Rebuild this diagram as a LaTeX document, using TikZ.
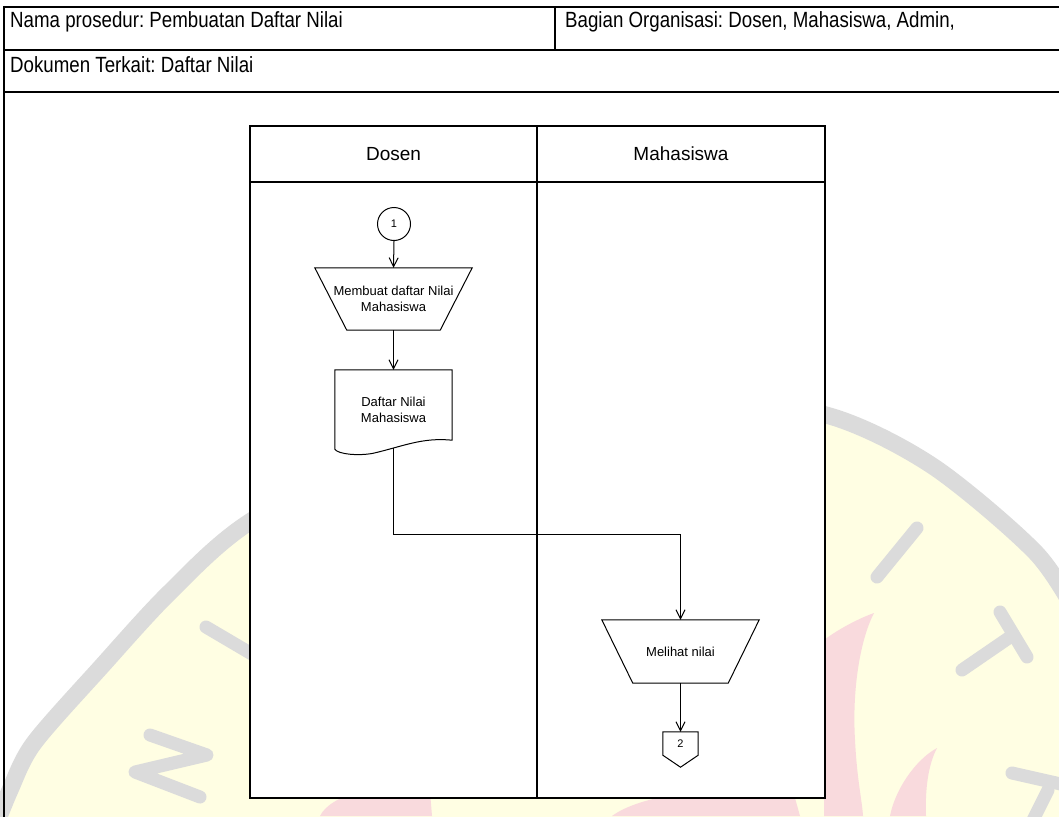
\documentclass[tikz,border=0pt]{standalone}
\usepackage{fontspec}
\setmainfont{Liberation Sans}
\newfontfamily\formfont[FakeStretch=0.85]{Liberation Sans}
\usetikzlibrary{arrows.meta,calc}
\frenchspacing

\definecolor{wmcream}{HTML}{FFFEE3}
\definecolor{wmgrey}{HTML}{DBDBDB}
\definecolor{wmpink}{HTML}{F9DADD}

\tikzset{
  tablerule/.style={line width=2pt, black},
  lanerule/.style={line width=1.3pt, black},
  shapeline/.style={line width=1pt, black},
  flow/.style={line width=1pt, black, -{Straight Barb[length=9pt,width=9pt]}},
  tabletext/.style={anchor=base west, inner sep=0pt, font=\formfont\fontsize{22}{26}\selectfont},
  lanetitle/.style={inner sep=0pt, font=\fontsize{19}{22}\selectfont},
  stepbox/.style={inner sep=0pt, align=center, font=\fontsize{13}{16}\selectfont},
  wmletter/.style={wmgrey, line width=13pt, line cap=round, line join=round},
}

\begin{document}
\begin{tikzpicture}[x=1pt,y=-1pt]
\useasboundingbox (0,0) rectangle (1059,816);

% faint emblem in the background
\begin{scope}
  \clip (0,0) rectangle (1059,816);
  \fill[wmcream] plot[smooth] coordinates {(-10,840) (10,790) (34,743) (101,667) (169,593) (248,523) (400,440) (560,400) (700,395) (833,417) (934,467) (1036,553) (1080,620)}
    -- (1100,900) -- (-20,900) -- cycle;
  % flames
  \fill[wmpink] (824,640) .. controls (840,628) and (860,618) .. (874,613)
    .. controls (860,640) and (852,690) .. (855,740) .. controls (857,780) and (862,800) .. (863,816) -- (824,816) -- cycle;
  \fill[wmpink] (937,748) .. controls (915,760) and (895,790) .. (890,816) -- (926,816)
    .. controls (925,790) and (928,765) .. (937,748) -- cycle;
  \fill[wmpink] (320,816) .. controls (330,795) and (380,780) .. (430,792) -- (432,816) -- cycle;
  \fill[wmpink] (612,816) .. controls (640,795) and (720,782) .. (795,798) -- (800,816) -- cycle;
  % ring
  \draw[wmgrey, line width=17pt] plot[smooth] coordinates {(-10,840) (10,790) (34,743) (101,667) (169,593) (248,523) (400,440) (560,400) (700,395) (833,417) (934,467) (1036,553) (1080,620)};
  % letters
  \draw[wmletter] (150,735) -- (207,755) -- (135,772) -- (200,797);
  \draw[wmletter] (206,627) -- (262,660);
  \draw[wmletter] (917,528) -- (877,577);
  \draw[wmletter] (1000,612) -- (1027,657);
  \draw[wmletter] (962,670) -- (1013,635);
  \draw[wmletter] (1012,773) -- (1065,785);
  \draw[wmletter] (1032,822) -- (1048,790);
\end{scope}

% form header table
\draw[tablerule] (4,7) -- (1062,7);
\draw[tablerule] (4,50) -- (1062,50);
\draw[tablerule] (4,92) -- (1062,92);
\draw[tablerule] (4,6) -- (4,820);
\draw[tablerule] (555,7) -- (555,50);
\node[tabletext] (proc) at (10,28) {Nama prosedur: Pembuatan Daftar Nilai};
\node[tabletext] (org) at (565,28) {Bagian Organisasi: Dosen, Mahasiswa, Admin,};
\node[tabletext] (docs) at (10,73) {Dokumen Terkait: Daftar Nilai};

% swimlanes
\fill[white] (250,126) rectangle (825,798);
\draw[lanerule] (250,126) rectangle (825,798);
\draw[lanerule] (250,182) -- (825,182);
\draw[lanerule] (537,126) -- (537,798);
\node[lanetitle] (laneA) at (393.5,154) {Dosen};
\node[lanetitle] (laneB) at (681,154) {Mahasiswa};

% start connector
\node[shapeline, draw, circle, minimum size=33pt, inner sep=0pt, font=\fontsize{11}{13}\selectfont] (c1) at (394,224) {1};

% manual operation: Membuat daftar Nilai Mahasiswa
\node[stepbox, minimum width=157pt, minimum height=62pt] (make) at (393.5,299) {Membuat daftar Nilai\\Mahasiswa};
\draw[shapeline] (make.north west) -- (make.north east) -- ($(make.south east)+(-32,0)$) -- ($(make.south west)+(32,0)$) -- cycle;

% document: Daftar Nilai Mahasiswa
\node[stepbox, minimum width=117pt, minimum height=80pt] (doc) at (393.5,410) {Daftar Nilai\\Mahasiswa};
\draw[shapeline] (doc.north west) -- (doc.north east) -- ($(doc.south east)+(0,-10)$)
  .. controls ($(doc.south east)+(-30,-13)$) and ($(doc.south)+(10,-4)$) .. ($(doc.south)+(-20,3)$)
  .. controls ($(doc.south)+(-35,6)$) and ($(doc.south west)+(3,4)$) .. ($(doc.south west)+(0,-1)$) -- cycle;

% manual operation: Melihat nilai
\node[stepbox, minimum width=157pt, minimum height=63pt] (view) at (680.5,651.5) {Melihat nilai};
\draw[shapeline] (view.north west) -- (view.north east) -- ($(view.south east)+(-31,0)$) -- ($(view.south west)+(31,0)$) -- cycle;

% off-page connector 2
\node[inner sep=0pt, minimum width=35pt, minimum height=35pt] (off2) at (680.5,749.5) {};
\node[inner sep=0pt, font=\fontsize{11}{13}\selectfont] (off2l) at (680.5,744) {2};
\draw[shapeline] (off2.north west) -- (off2.north east) -- ($(off2.south east)+(0,-12)$) -- (off2.south) -- ($(off2.south west)+(0,-12)$) -- cycle;

% flow
\draw[flow] (c1.south) -- (make.north);
\draw[flow] (make.south) -- (doc.north);
\draw[flow] ($(doc.south)+(0,-2)$) -- ++(0,86) -| (view.north);
\draw[flow] (view.south) -- (off2.north);
\end{tikzpicture}
\end{document}
